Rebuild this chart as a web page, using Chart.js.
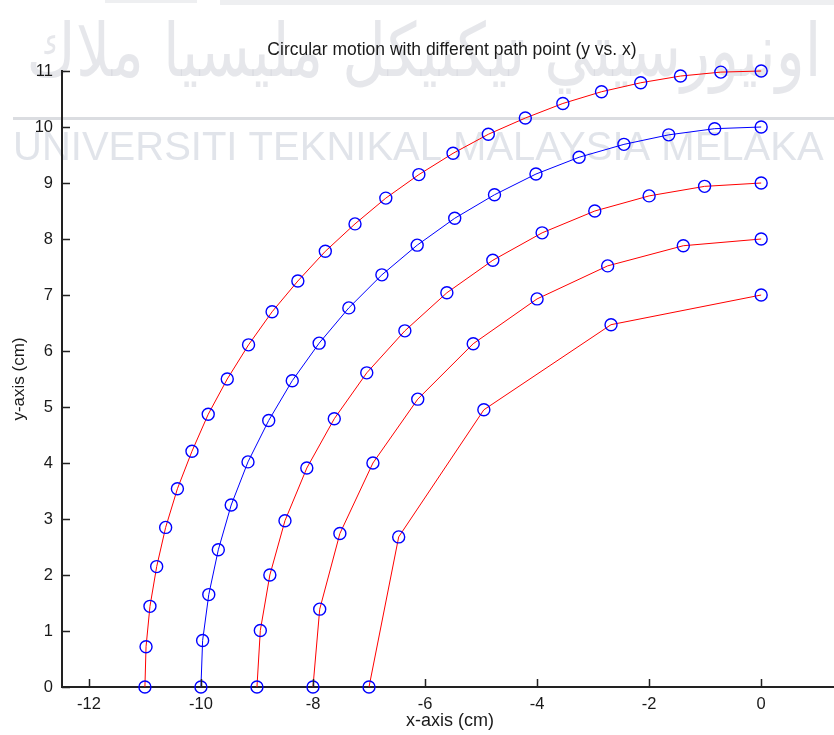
<!DOCTYPE html>
<html>
<head>
<meta charset="utf-8">
<script src="https://cdn.jsdelivr.net/npm/chart.js@4.4.1/dist/chart.umd.min.js"></script>
<style>
    html, body { margin: 0; padding: 0; background: #fff; }
    #wrap { width: 834px; height: 735px; position: relative; }
</style>
</head>
<body>
<div id="wrap"><canvas id="pathChart"></canvas></div>
<script>
// data, one pair of arrays per path
const r11X = [-11.00, -10.98, -10.91, -10.79, -10.63, -10.42, -10.16, -9.87, -9.53, -9.15, -8.73, -8.27, -7.78,
              -7.25, -6.70, -6.11, -5.50, -4.87, -4.21, -3.54, -2.85, -2.15, -1.44, -0.72, 0];
const r11Y = [0, 0.72, 1.44, 2.15, 2.85, 3.54, 4.21, 4.87, 5.50, 6.11, 6.70, 7.25, 7.78,
              8.27, 8.73, 9.15, 9.53, 9.87, 10.16, 10.42, 10.63, 10.79, 10.91, 10.98, 11];
const r10X = [-10, -9.97, -9.86, -9.69, -9.46, -9.16, -8.79, -8.37, -7.89, -7.36,
              -6.77, -6.14, -5.47, -4.76, -4.02, -3.25, -2.45, -1.65, -0.83, 0];
const r10Y = [0, 0.83, 1.65, 2.45, 3.25, 4.02, 4.76, 5.47, 6.14, 6.77,
              7.36, 7.89, 8.37, 8.79, 9.16, 9.46, 9.69, 9.86, 9.97, 10];
const r9X = [-9, -8.94, -8.77, -8.50, -8.11, -7.62, -7.04, -6.36, -5.61, -4.79, -3.91, -2.97, -2.00, -1.01, 0];
const r9Y = [0, 1.01, 2.00, 2.97, 3.91, 4.79, 5.61, 6.36, 7.04, 7.62, 8.11, 8.50, 8.77, 8.94, 9];
const r8X = [-8, -7.88, -7.52, -6.93, -6.13, -5.14, -4.00, -2.74, -1.39, 0];
const r8Y = [0, 1.39, 2.74, 4.00, 5.14, 6.13, 6.93, 7.52, 7.88, 8];
const r7X = [-7, -6.47, -4.95, -2.68, 0];
const r7Y = [0, 2.68, 4.95, 6.47, 7];

const xTicks = [-12, -10, -8, -6, -4, -2, 0];
const yTicks = [0, 1, 2, 3, 4, 5, 6, 7, 8, 9, 10, 11];

const chartTitle = 'Circular motion with different path point (y vs. x)';
const xTitle = 'x-axis (cm)';
const yTitle = 'y-axis (cm)';
const markLatin = 'UNIVERSITI TEKNIKAL MALAYSIA MELAKA';
const markJawi = 'اونيورسيتي تيكنيكل مليسيا ملاك';

function toPoints(xs, ys) {
    return xs.map((x, i) => ({ x: x, y: ys[i] }));
}

function pathSet(xs, ys, lineColor) {
    return {
        data: toPoints(xs, ys),
        showLine: true,
        borderColor: lineColor,
        borderWidth: 1,
        pointStyle: 'circle',
        pointRadius: 6,
        pointBorderWidth: 1.4,
        pointBorderColor: '#0000ff',
        pointBackgroundColor: 'rgba(0,0,0,0)',
        clip: false
    };
}

const FONT = '"Liberation Sans", Arial, sans-serif';

// watermark behind, title and inward tick marks on top
const decor = {
    id: 'decor',
    beforeDraw(chart) {
        const ctx = chart.ctx;
        ctx.save();
        ctx.fillStyle = '#fff';
        ctx.fillRect(0, 0, chart.width, chart.height);

        ctx.fillStyle = '#eeeff1';
        ctx.fillRect(105, 0, 92, 3);
        ctx.fillRect(220, 0, 614, 5);

        ctx.fillStyle = 'rgba(205, 208, 215, 0.5)';
        ctx.font = '74px "DejaVu Sans"';
        ctx.textAlign = 'center';
        ctx.textBaseline = 'alphabetic';
        const w = ctx.measureText(markJawi).width;
        ctx.save();
        ctx.translate(424, 76);
        ctx.scale(795 / w, 1);
        ctx.fillText(markJawi, 0, 0);
        ctx.restore();

        ctx.fillStyle = 'rgba(210, 212, 218, 0.8)';
        ctx.fillRect(13, 117, 821, 3);

        ctx.fillStyle = 'rgba(200, 205, 216, 0.55)';
        ctx.font = '40px ' + FONT;
        ctx.textAlign = 'left';
        ctx.textBaseline = 'middle';
        ctx.fillText(markLatin, 13, 149);
        ctx.restore();
    },
    afterDraw(chart) {
        const ctx = chart.ctx;
        const xs = chart.scales.x;
        const ys = chart.scales.y;
        const area = chart.chartArea;
        ctx.save();
        ctx.strokeStyle = '#222';
        ctx.lineWidth = 1.5;
        ctx.beginPath();
        xs.ticks.forEach(t => {
            const px = Math.round(xs.getPixelForValue(t.value)) + 0.5;
            ctx.moveTo(px, area.bottom);
            ctx.lineTo(px, area.bottom - 8);
        });
        ys.ticks.forEach(t => {
            const py = Math.round(ys.getPixelForValue(t.value)) + 0.5;
            ctx.moveTo(area.left, py);
            ctx.lineTo(area.left + 8, py);
        });
        ctx.stroke();

        ctx.fillStyle = '#1a1a1a';
        ctx.textAlign = 'center';
        ctx.textBaseline = 'middle';
        ctx.font = '17.5px ' + FONT;
        ctx.fillText(chartTitle, 452, 50);
        ctx.font = '18px ' + FONT;
        ctx.fillText(xTitle, 450, 721);
        ctx.translate(19, 379);
        ctx.rotate(-Math.PI / 2);
        ctx.font = '17px ' + FONT;
        ctx.fillText(yTitle, 0, 0);
        ctx.restore();
    }
};

const ctxPath = document.getElementById('pathChart').getContext('2d');
const pathChart = new Chart(ctxPath, {
    type: 'scatter',
    data: {
        datasets: [
            pathSet(r11X, r11Y, '#ff0000'),
            pathSet(r10X, r10Y, '#0000ff'),
            pathSet(r9X, r9Y, '#ff0000'),
            pathSet(r8X, r8Y, '#ff0000'),
            pathSet(r7X, r7Y, '#ff0000')
        ]
    },
    options: {
        responsive: true,
        maintainAspectRatio: false,
        animation: false,
        events: [],
        layout: {
            autoPadding: false,
            padding: { top: 71, right: 0, bottom: 0, left: 0 }
        },
        plugins: {
            legend: { display: false },
            tooltip: { enabled: false }
        },
        scales: {
            x: {
                type: 'linear',
                position: 'bottom',
                min: -12.48,
                max: 1.3,
                afterBuildTicks: scale => {
                    scale.ticks = xTicks.map(v => ({ value: v }));
                },
                afterFit: scale => {
                    scale.height = 48;
                },
                grid: { display: false, drawTicks: false },
                border: { display: true, color: '#222', width: 2 },
                ticks: {
                    color: '#1a1a1a',
                    padding: 8,
                    maxRotation: 0,
                    autoSkip: false,
                    font: { family: FONT, size: 16.5 }
                }
            },
            y: {
                type: 'linear',
                min: 0,
                max: 11,
                afterBuildTicks: scale => {
                    scale.ticks = yTicks.map(v => ({ value: v }));
                },
                afterFit: scale => {
                    scale.width = 62;
                },
                grid: { display: false, drawTicks: false },
                border: { display: true, color: '#222', width: 2 },
                ticks: {
                    color: '#1a1a1a',
                    padding: 9,
                    autoSkip: false,
                    font: { family: FONT, size: 16.5 }
                }
            }
        }
    },
    plugins: [decor]
});
</script>
</body>
</html>
